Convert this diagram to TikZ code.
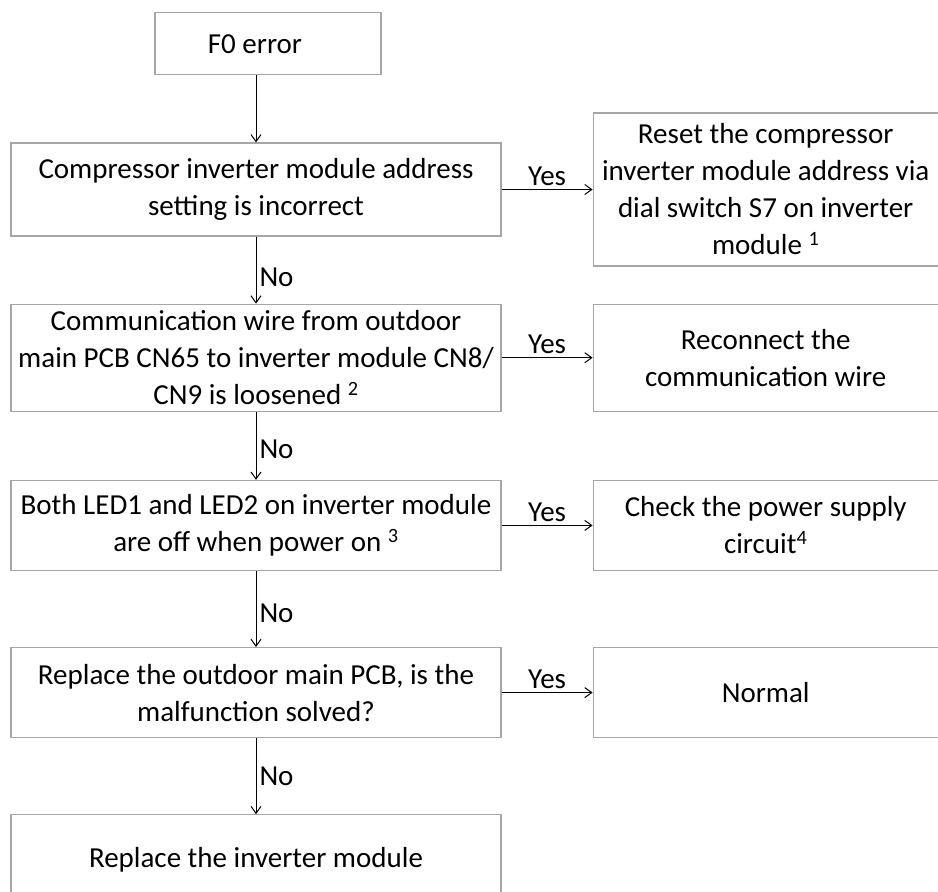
\documentclass[tikz,border=0pt]{standalone}
\usepackage{fontspec}
\setmainfont{Carlito}
\usepackage{tikz}
\usetikzlibrary{arrows.meta, positioning}
\definecolor{cadre}{HTML}{A6A6A6}
\tikzset{
  boite/.style={rectangle, draw=cadre, line width=1.2pt, text=black,
    font=\fontsize{29}{37}\selectfont, align=center, inner sep=2pt,
    minimum height=90pt},
  question/.style={boite, minimum width=490pt},
  reponse/.style={boite, minimum width=345pt},
  fleche/.style={-{Straight Barb[length=7pt, width=10pt]}, line width=1pt, color=black},
  etiquette/.style={font=\fontsize{29}{37}\selectfont, inner sep=3pt},
}

\begin{document}
\begin{tikzpicture}
    \useasboundingbox (0pt,0pt) rectangle (938pt,-892pt);
    \node[question, minimum height=93pt] (adresse) at (256pt,-189.5pt) {Compressor inverter module address\\ setting is incorrect};
    \node[boite, minimum width=226pt, minimum height=62pt, above=67pt of adresse, xshift=12pt] (f0) {F0 error\hspace*{26pt}};
    \node[question, minimum height=107pt, below=67pt of adresse] (cable) {Communication wire from outdoor\\ main PCB CN65 to inverter module CN8/\\ CN9 is loosened \textsuperscript{2}};
    \node[question, below=68pt of cable] (led) {Both LED1 and LED2 on inverter module\\ are off when power on \textsuperscript{3}};
    \node[question, below=76pt of led] (carte) {Replace the outdoor main PCB, is the\\ malfunction solved?};
    \node[question, below=76pt of carte] (module) {Replace the inverter module};

    \node[reponse, minimum height=153pt, right=91pt of adresse] (reset) {Reset the compressor\\ inverter module address via\\ dial switch S7 on inverter\\ module \textsuperscript{1}};
    \node[reponse, minimum height=107pt, right=91pt of cable] (rebrancher) {Reconnect the\\ communication wire};
    \node[reponse, right=91pt of led] (alim) {Check the power supply\\ circuit\textsuperscript{4}};
    \node[reponse, right=91pt of carte] (normal) {Normal};

    \draw[fleche] (f0.south -| adresse.north) -- (adresse.north);
    \draw[fleche] (adresse) -- node[etiquette, above] {Yes} (reset);
    \draw[fleche] (adresse) -- node[etiquette, right, pos=0.6] {No} (cable);
    \draw[fleche] (cable) -- node[etiquette, above] {Yes} (rebrancher);
    \draw[fleche] (cable) -- node[etiquette, right, pos=0.55] {No} (led);
    \draw[fleche] (led) -- node[etiquette, above] {Yes} (alim);
    \draw[fleche] (led) -- node[etiquette, right, pos=0.55] {No} (carte);
    \draw[fleche] (carte) -- node[etiquette, above] {Yes} (normal);
    \draw[fleche] (carte) -- node[etiquette, right] {No} (module);
\end{tikzpicture}
\end{document}
